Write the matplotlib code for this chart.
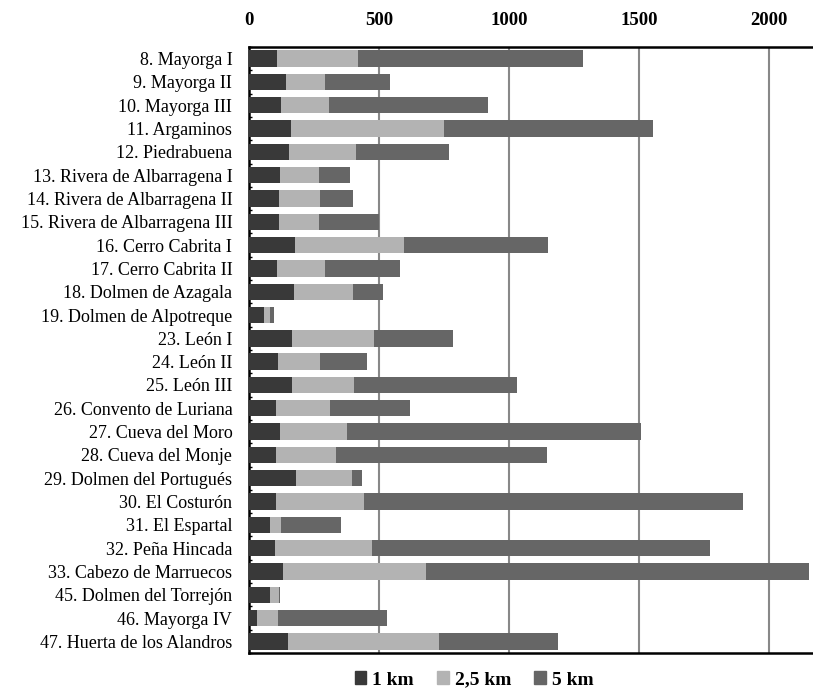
import numpy as np
import matplotlib.pyplot as plt
from matplotlib.patches import Patch

plt.rcParams['font.family'] = ['Liberation Serif', 'DejaVu Serif']

sitios = ['8. Mayorga I', '9. Mayorga II', '10. Mayorga III', '11. Argaminos',
          '12. Piedrabuena', '13. Rivera de Albarragena I', '14. Rivera de Albarragena II',
          '15. Rivera de Albarragena III', '16. Cerro Cabrita I', '17. Cerro Cabrita II',
          '18. Dolmen de Azagala', '19. Dolmen de Alpotreque', '23. León I', '24. León II',
          '25. León III', '26. Convento de Luriana', '27. Cueva del Moro',
          '28. Cueva del Monje', '29. Dolmen del Portugués', '30. El Costurón',
          '31. El Espartal', '32. Peña Hincada', '33. Cabezo de Marruecos',
          '45. Dolmen del Torrejón', '46. Mayorga IV', '47. Huerta de los Alandros']

km1 = [108, 141, 124, 162, 152, 118, 117, 114, 178, 106, 173, 58, 164, 113,
       164, 105, 118, 103, 179, 103, 79, 99, 131, 82, 29, 151]
km25 = [311, 152, 184, 587, 258, 150, 156, 154, 417, 185, 227, 21, 315, 161,
        241, 205, 259, 233, 216, 339, 43, 374, 550, 33, 84, 581]
km5 = [865, 249, 610, 806, 358, 119, 128, 232, 557, 291, 116, 17, 304, 181,
       626, 309, 1132, 810, 40, 1459, 232, 1301, 1474, 3, 419, 456]

colores = ['#393939', '#b3b3b3', '#666666']
etiquetas = ['1 km', '2,5 km', '5 km']

fig = plt.figure(figsize=(8.13, 6.9), dpi=100)
ax = fig.add_axes([0.3063, 0.0536, 0.6937, 0.8783])

y = np.arange(len(sitios))
izq = np.zeros(len(sitios))
for serie, c in zip([km1, km25, km5], colores):
    ax.barh(y, serie, left=izq, height=0.7, color=c, zorder=3)
    izq += np.array(serie)

ax.set_xlim(0, 2170)
ax.set_ylim(len(sitios) - 0.5, -0.5)
ax.set_xticks([0, 500, 1000, 1500, 2000])
ax.xaxis.tick_top()
ax.tick_params(axis='x', length=0, pad=13, labelsize=13.5)
for t in ax.get_xticklabels():
    t.set_fontweight('bold')
ax.set_yticks(y)
ax.set_yticklabels(sitios, fontsize=13)
ax.tick_params(axis='y', length=0, pad=12)
ax.set_yticks(np.arange(len(sitios) + 1) - 0.5, minor=True)
ax.tick_params(axis='y', which='minor', direction='in', length=2.5, width=1)

ax.grid(axis='x', color='#888888', linewidth=1.5, zorder=0)
ax.spines['right'].set_visible(False)
for s in ['top', 'left', 'bottom']:
    ax.spines[s].set_linewidth(1.8)
    ax.spines[s].set_color('black')

handles = [Patch(color=c, label=l) for c, l in zip(colores, etiquetas)]
fig.legend(handles=handles, loc='center', bbox_to_anchor=(474 / 813, 1 - 680 / 690),
           ncol=3, frameon=False, handlelength=0.6, handleheight=0.6,
           handletextpad=0.3, columnspacing=1.2, prop={'weight': 'bold', 'size': 14})

plt.savefig('out.png', dpi=100)
